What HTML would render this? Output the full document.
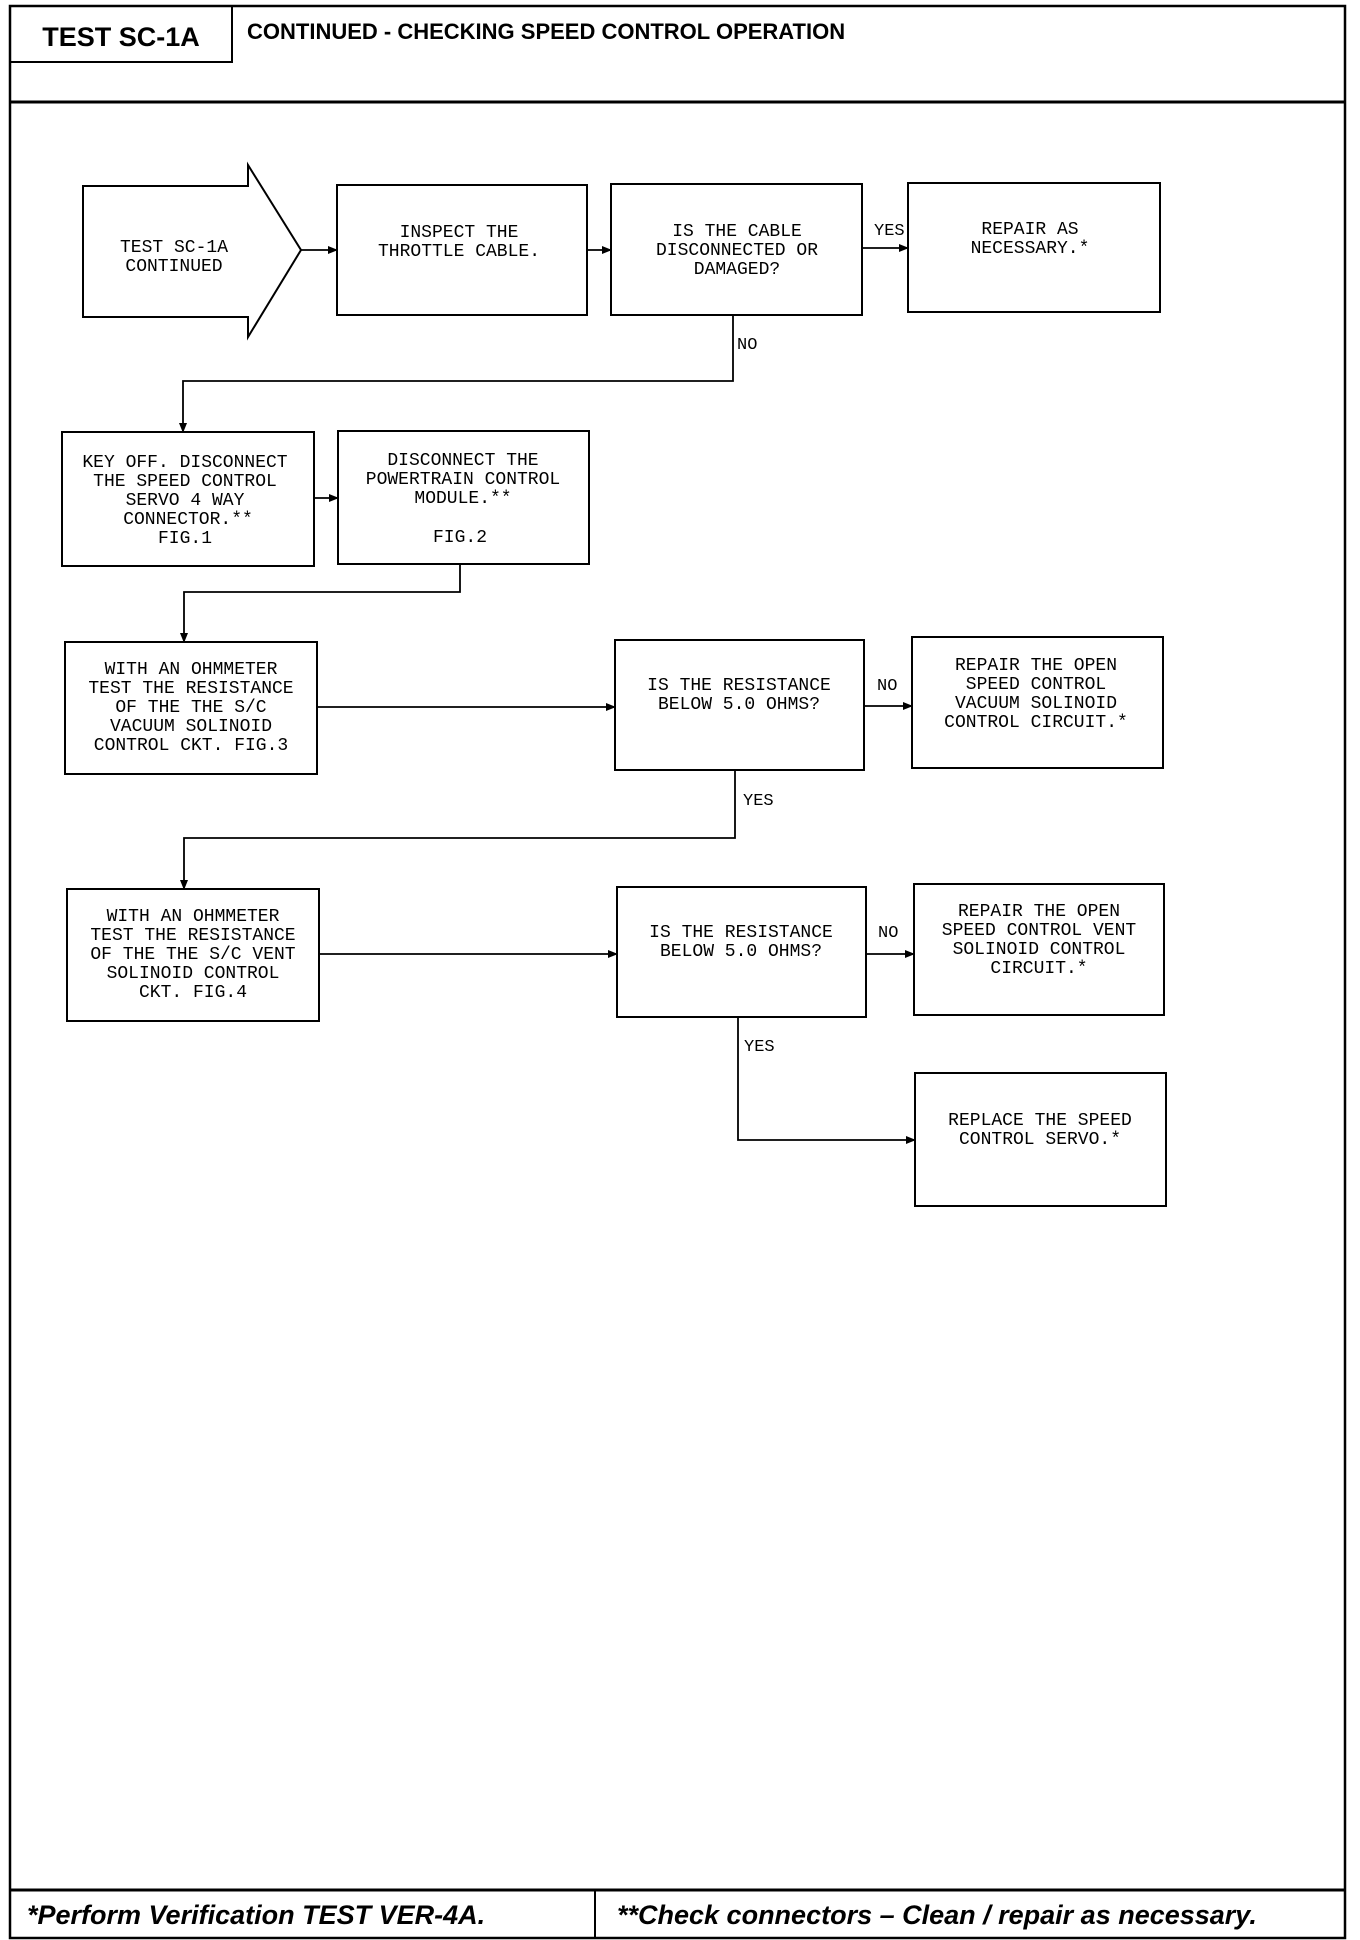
<!DOCTYPE html>
<html><head><meta charset="utf-8"><style>
html,body{margin:0;padding:0;background:#fff}
svg{display:block}
.t{font-family:"Liberation Mono",monospace;font-size:18px;fill:#000;text-anchor:middle}
.l{font-family:"Liberation Mono",monospace;font-size:17px;fill:#000}
</style></head><body>
<svg width="1360" height="1940" viewBox="0 0 1360 1940" xmlns="http://www.w3.org/2000/svg">
<defs><marker id="a" markerWidth="10" markerHeight="8" refX="9" refY="4" orient="auto" markerUnits="userSpaceOnUse"><path d="M0,0 L10,4 L0,8 Z" fill="#000"/></marker></defs>
<g fill="none" stroke="#000">
<rect x="10" y="6" width="1335" height="1932" stroke-width="2.5"/>
<rect x="10" y="6" width="222" height="56" stroke-width="2"/>
<line x1="10" y1="102" x2="1345" y2="102" stroke-width="3"/>
<line x1="10" y1="1890" x2="1345" y2="1890" stroke-width="3"/>
<line x1="595" y1="1890" x2="595" y2="1938" stroke-width="2"/>
<g stroke-width="2">
<path d="M83,186 H248 V165 L301,250 L248,337 V317 H83 Z"/>
<rect x="337" y="185" width="250" height="130"/>
<rect x="611" y="184" width="251" height="131"/>
<rect x="908" y="183" width="252" height="129"/>
<rect x="62" y="432" width="252" height="134"/>
<rect x="338" y="431" width="251" height="133"/>
<rect x="65" y="642" width="252" height="132"/>
<rect x="615" y="640" width="249" height="130"/>
<rect x="912" y="637" width="251" height="131"/>
<rect x="67" y="889" width="252" height="132"/>
<rect x="617" y="887" width="249" height="130"/>
<rect x="914" y="884" width="250" height="131"/>
<rect x="915" y="1073" width="251" height="133"/>
</g>
<g stroke-width="1.8">
<line x1="301" y1="250" x2="337" y2="250" marker-end="url(#a)"/>
<line x1="587" y1="250" x2="611" y2="250" marker-end="url(#a)"/>
<line x1="862" y1="248" x2="908" y2="248" marker-end="url(#a)"/>
<path d="M733,315 V381 H183 V432" marker-end="url(#a)"/>
<line x1="314" y1="498" x2="338" y2="498" marker-end="url(#a)"/>
<path d="M460,564 V592 H184 V642" marker-end="url(#a)"/>
<line x1="317" y1="707" x2="615" y2="707" marker-end="url(#a)"/>
<line x1="864" y1="706" x2="912" y2="706" marker-end="url(#a)"/>
<path d="M735,770 V838 H184 V889" marker-end="url(#a)"/>
<line x1="319" y1="954" x2="617" y2="954" marker-end="url(#a)"/>
<line x1="866" y1="954" x2="914" y2="954" marker-end="url(#a)"/>
<path d="M738,1017 V1140 H915" marker-end="url(#a)"/>
</g>
</g>
<text x="121" y="46" font-family="Liberation Sans,sans-serif" font-weight="bold" font-size="27" text-anchor="middle">TEST SC-1A</text>
<text x="247" y="39" font-family="Liberation Sans,sans-serif" font-weight="bold" font-size="22">CONTINUED -  CHECKING SPEED CONTROL OPERATION</text>
<text x="27" y="1924" font-family="Liberation Sans,sans-serif" font-weight="bold" font-style="italic" font-size="27">*Perform Verification TEST VER-4A.</text>
<text x="617" y="1924" font-family="Liberation Sans,sans-serif" font-weight="bold" font-style="italic" font-size="27">**Check connectors – Clean / repair as necessary.</text>

<text class="t" x="174" y="252">TEST SC-1A</text>
<text class="t" x="174" y="271">CONTINUED</text>
<text class="t" x="459" y="237">INSPECT THE</text>
<text class="t" x="459" y="256">THROTTLE CABLE.</text>
<text class="t" x="737" y="236">IS THE CABLE</text>
<text class="t" x="737" y="255">DISCONNECTED OR</text>
<text class="t" x="737" y="274">DAMAGED?</text>
<text class="t" x="1030" y="234">REPAIR AS</text>
<text class="t" x="1030" y="253">NECESSARY.*</text>
<text class="l" x="874" y="235">YES</text>
<text class="l" x="737" y="349">NO</text>
<text class="t" x="185" y="467">KEY OFF. DISCONNECT</text>
<text class="t" x="185" y="486">THE SPEED CONTROL</text>
<text class="t" x="185" y="505">SERVO 4 WAY</text>
<text class="t" x="188" y="524">CONNECTOR.**</text>
<text class="t" x="185" y="543">FIG.1</text>
<text class="t" x="463" y="465">DISCONNECT THE</text>
<text class="t" x="463" y="484">POWERTRAIN CONTROL</text>
<text class="t" x="463" y="503">MODULE.**</text>
<text class="t" x="460" y="542">FIG.2</text>
<text class="t" x="191" y="674">WITH AN OHMMETER</text>
<text class="t" x="191" y="693">TEST THE RESISTANCE</text>
<text class="t" x="191" y="712">OF THE THE S/C</text>
<text class="t" x="191" y="731">VACUUM SOLINOID</text>
<text class="t" x="191" y="750">CONTROL CKT. FIG.3</text>
<text class="t" x="739" y="690">IS THE RESISTANCE</text>
<text class="t" x="739" y="709">BELOW 5.0 OHMS?</text>
<text class="l" x="877" y="690">NO</text>
<text class="t" x="1036" y="670">REPAIR THE OPEN</text>
<text class="t" x="1036" y="689">SPEED CONTROL</text>
<text class="t" x="1036" y="708">VACUUM SOLINOID</text>
<text class="t" x="1036" y="727">CONTROL CIRCUIT.*</text>
<text class="l" x="743" y="805">YES</text>
<text class="t" x="193" y="921">WITH AN OHMMETER</text>
<text class="t" x="193" y="940">TEST THE RESISTANCE</text>
<text class="t" x="193" y="959">OF THE THE S/C VENT</text>
<text class="t" x="193" y="978">SOLINOID CONTROL</text>
<text class="t" x="193" y="997">CKT. FIG.4</text>
<text class="t" x="741" y="937">IS THE RESISTANCE</text>
<text class="t" x="741" y="956">BELOW 5.0 OHMS?</text>
<text class="l" x="878" y="937">NO</text>
<text class="t" x="1039" y="916">REPAIR THE OPEN</text>
<text class="t" x="1039" y="935">SPEED CONTROL VENT</text>
<text class="t" x="1039" y="954">SOLINOID CONTROL</text>
<text class="t" x="1039" y="973">CIRCUIT.*</text>
<text class="l" x="744" y="1051">YES</text>
<text class="t" x="1040" y="1125">REPLACE THE SPEED</text>
<text class="t" x="1040" y="1144">CONTROL SERVO.*</text>
</svg>
</body></html>
